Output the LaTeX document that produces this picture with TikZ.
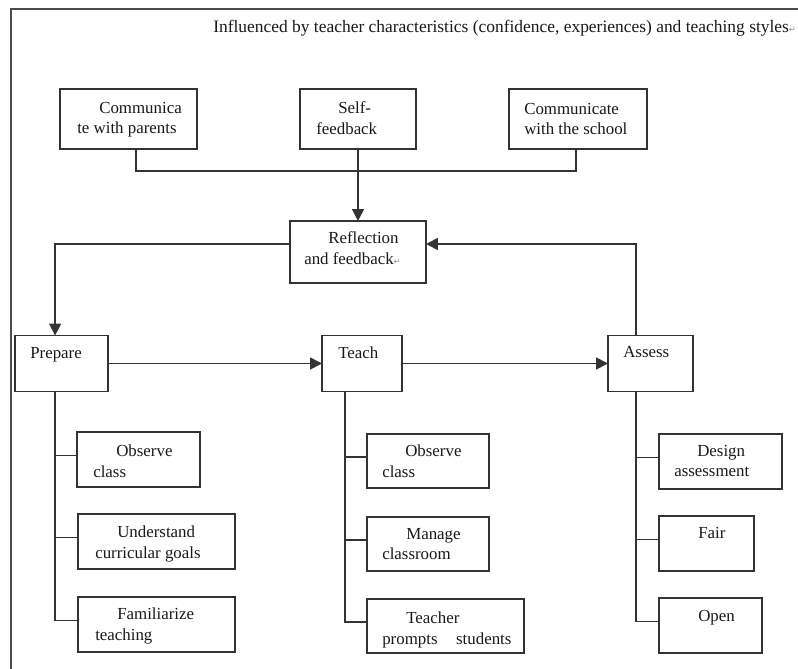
\documentclass[tikz,border=0pt]{standalone}
\usepackage{fontspec}
\setmainfont{Liberation Serif}
\newfontfamily\marksymbol{DejaVu Sans}
\usetikzlibrary{arrows.meta}
\newcommand{\pmark}{{\color{black!45}\marksymbol\fontsize{6}{6}\selectfont ↵}}

\begin{document}
\begin{tikzpicture}[x=0.025cm, y=-0.025cm, >={Triangle[length=8.5pt,width=8.5pt]},
    box/.style={draw=black!80, line width=1.3pt, inner sep=0pt, outer sep=0pt},
    txt/.style={anchor=north west, align=left, inner sep=0pt, text=black!90,
      font=\fontsize{12}{14.5}\selectfont},
    link/.style={draw=black!80, line width=1.3pt}]
    \useasboundingbox (0,0) rectangle (798,669);

    % Frame and heading
    \draw[link, black!70] (798,9) -- (11,9) -- (11,669);
    \node[txt, font=\fontsize{12.4}{14.5}\selectfont] (title) at (213,20) {Influenced by teacher characteristics (confidence, experiences) and teaching styles\pmark};

    % Top row
    \node[box, minimum width=3.425cm, minimum height=1.5cm,
      label={[txt, xshift=0.425cm, yshift=-0.32cm]north west:{\hspace*{0.55cm}Communica\\te with parents}}] (parents) at (128.5,119) {};
    \node[box, minimum width=2.9cm, minimum height=1.5cm,
      label={[txt, xshift=0.4cm, yshift=-0.32cm]north west:{\hspace*{0.55cm}Self-\\feedback}}] (self) at (358,119) {};
    \node[box, minimum width=3.45cm, minimum height=1.5cm,
      label={[txt, xshift=0.375cm, yshift=-0.35cm]north west:{Communicate\\with the school}}] (school) at (578,119) {};

    % Reflection
    \node[box, minimum width=3.4cm, minimum height=1.55cm,
      label={[txt, xshift=0.35cm, yshift=-0.27cm]north west:{\hspace*{0.6cm}Reflection\\and feedback\pmark}}] (refl) at (358,252) {};

    % Main stages
    \node[box, minimum width=2.325cm, minimum height=1.4cm,
      label={[txt, xshift=0.375cm, yshift=-0.29cm]north west:{Prepare}}] (prep) at (61.5,363.5) {};
    \node[box, minimum width=2cm, minimum height=1.4cm,
      label={[txt, xshift=0.4cm, yshift=-0.27cm]north west:{Teach}}] (teach) at (362,363.5) {};
    \node[box, minimum width=2.125cm, minimum height=1.4cm,
      label={[txt, xshift=0.375cm, yshift=-0.27cm]north west:{Assess}}] (assess) at (650.5,363.5) {};

    % Prepare tasks
    \node[box, minimum width=3.075cm, minimum height=1.375cm,
      label={[txt, xshift=0.4cm, yshift=-0.325cm]north west:{\hspace*{0.575cm}Observe\\class}}] (pobs) at (138.5,459.5) {};
    \node[box, minimum width=3.925cm, minimum height=1.375cm,
      label={[txt, xshift=0.425cm, yshift=-0.3cm]north west:{\hspace*{0.55cm}Understand\\curricular goals}}] (pund) at (156.5,541.5) {};
    \node[box, minimum width=3.925cm, minimum height=1.375cm,
      label={[txt, xshift=0.425cm, yshift=-0.275cm]north west:{\hspace*{0.55cm}Familiarize\\teaching}}] (pfam) at (156.5,624.5) {};

    % Teach tasks
    \node[box, minimum width=3.05cm, minimum height=1.35cm,
      label={[txt, xshift=0.375cm, yshift=-0.275cm]north west:{\hspace*{0.575cm}Observe\\class}}] (tobs) at (428,461) {};
    \node[box, minimum width=3.05cm, minimum height=1.35cm,
      label={[txt, xshift=0.375cm, yshift=-0.275cm]north west:{\hspace*{0.6cm}Manage\\classroom}}] (tman) at (428,544) {};
    \node[box, minimum width=3.925cm, minimum height=1.35cm,
      label={[txt, xshift=0.375cm, yshift=-0.325cm]north west:{\hspace*{0.6cm}Teacher\\prompts\hspace{1.1em}students}}] (tpro) at (445.5,626) {};

    % Assess tasks
    \node[box, minimum width=3.075cm, minimum height=1.375cm,
      label={[txt, xshift=0.375cm, yshift=-0.275cm]north west:{\hspace*{0.575cm}Design\\assessment}}] (ades) at (720.5,461.5) {};
    \node[box, minimum width=2.375cm, minimum height=1.375cm,
      label={[txt, xshift=0.975cm, yshift=-0.275cm]north west:{Fair}}] (afai) at (706.5,543.5) {};
    \node[box, minimum width=2.575cm, minimum height=1.375cm,
      label={[txt, xshift=0.975cm, yshift=-0.3cm]north west:{Open}}] (aope) at (710.5,625.5) {};

    % Feedback into reflection
    \coordinate (join) at (358,171);
    \draw[link] ([xshift=0.19cm]parents.south) |- (join) -| ([xshift=-0.05cm]school.south);
    \draw[link,->] (self.south) -- (refl.north);

    % Cycle
    \draw[link,->] ([yshift=0.2cm]refl.west) -| ([xshift=-0.16cm]prep.north);
    \draw[link,->] (prep) -- (teach);
    \draw[link,->] (teach) -- (assess);
    \draw[link,->] ([xshift=-0.36cm]assess.north) |- ([yshift=0.2cm]refl.east);

    % Branches
    \coordinate (prepbar) at ([xshift=-0.16cm]prep.south);
    \coordinate (teachbar) at ([xshift=-0.43cm]teach.south);
    \coordinate (assessbar) at ([xshift=-0.36cm]assess.south);
    \draw[link] (prepbar) |- ([yshift=0.1cm]pfam.west);
    \draw[link] (teachbar) |- ([yshift=0.1cm]tpro.west);
    \draw[link] (assessbar) |- ([yshift=0.1cm]aope.west);
    \foreach \c/\b in {pobs/prepbar, pund/prepbar, tobs/teachbar, tman/teachbar, ades/assessbar, afai/assessbar}
      \draw[link] ([yshift=0.1cm]\c.west) -- ([yshift=0.1cm]\c.west -| \b);
\end{tikzpicture}
\end{document}
